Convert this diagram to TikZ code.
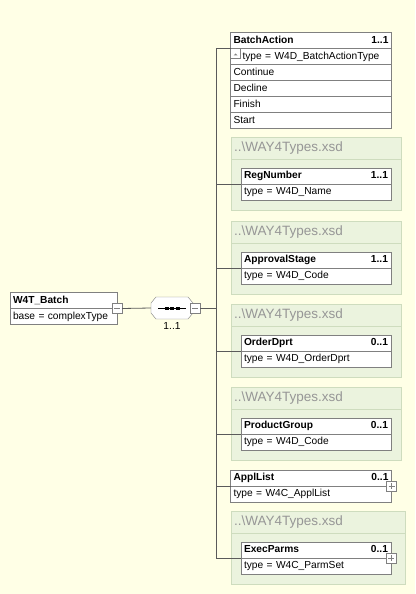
\documentclass[tikz,border=0pt]{standalone}
\usepackage{fontspec}
\setmainfont{Liberation Sans}
\usetikzlibrary{positioning}

\definecolor{paper}{RGB}{255,255,230}
\definecolor{grpfill}{RGB}{235,243,222}
\definecolor{grpline}{RGB}{206,220,190}
\definecolor{boxline}{RGB}{128,128,128}
\definecolor{wire}{RGB}{90,90,90}
\definecolor{grptext}{RGB}{150,150,150}

\newcommand\minussign[1]{\draw[boxline] ([xshift=-3pt]#1.center) -- ([xshift=3pt]#1.center);}
\newcommand\plussign[1]{\minussign{#1}\draw[boxline] ([yshift=-3pt]#1.center) -- ([yshift=3pt]#1.center);}

\begin{document}
\begin{tikzpicture}[x=1pt,y=-1pt,inner sep=0pt,outer sep=0pt,
                    font=\fontsize{10.2}{12}\selectfont]
  \tikzset{
    cell/.style={draw=boxline, fill=white, minimum height=16pt, text width=#1-6pt,
                 inner xsep=3pt, text height=8pt, text depth=2.5pt, align=left},
    grphd/.style={draw=grpline, fill=grpfill, minimum height=22pt, text width=#1-6pt,
                  inner xsep=3pt, text height=10pt, text depth=3pt, align=left,
                  text=grptext, font=\fontsize{13.5}{15}\selectfont},
    grpbody/.style={draw=grpline, fill=grpfill, minimum height=51pt, minimum width=#1},
    btn/.style={draw=boxline, fill=white, minimum size=10pt},
    wire/.style={draw=wire, line width=0.8pt},
  }
  \fill[paper] (0,0) rectangle (415,594);
  \useasboundingbox (0,0) rectangle (415,594);

  % root element
  \node[cell=107pt, anchor=north west] (w4thd) at (10,292.5) {\textbf{W4T\_Batch}};
  \node[cell=107pt] (w4ttype) [below=0pt of w4thd] {base = complexType};
  \node[btn] (w4tbtn) at (w4thd.south east) {};
  \minussign{w4tbtn}

  % sequence
  \node[minimum width=42pt, minimum height=22pt] (seq) at (172,308) {};
  \draw[boxline, fill=white] ([xshift=5pt]seq.north west) -- ([xshift=-5pt]seq.north east)
    -- ([yshift=-6pt]seq.north east) -- ([yshift=6pt]seq.south east)
    -- ([xshift=-5pt]seq.south east) -- ([xshift=5pt]seq.south west)
    -- ([yshift=6pt]seq.south west) -- ([yshift=-6pt]seq.north west) -- cycle;
  \draw[line width=1pt] ([xshift=-14pt]seq.center) -- ([xshift=14pt]seq.center);
  \foreach \d in {-7.5,-2,3.5}
    \fill ([xshift=\d pt, yshift=1.5pt]seq.center) rectangle +(4,3);
  \node[btn] (seqbtn) at (195,308) {};
  \minussign{seqbtn}
  \node (seqcard) [below=3pt of seq] {1..1};
  \coordinate (bus) at (216,308);

  % enumerated element
  \node[cell=161pt, anchor=north west] (batchhd) at (230.5,32.5) {\textbf{BatchAction}\hfill\textbf{1..1}};
  \node[cell=161pt] (batchtype) [below=0pt of batchhd] {\hspace*{9pt}type = W4D\_BatchActionType};
  \node[cell=161pt] (batchv1) [below=0pt of batchtype] {Continue};
  \node[cell=161pt] (batchv2) [below=0pt of batchv1] {Decline};
  \node[cell=161pt] (batchv3) [below=0pt of batchv2] {Finish};
  \node[cell=161pt] (batchv4) [below=0pt of batchv3] {Start};
  \node[btn, anchor=north west] (batchbtn) at (batchtype.north west) {};
  \fill[boxline] ([shift={(-2,2)}]batchbtn.center) -- ([shift={(2,2)}]batchbtn.center)
                 -- ([shift={(0,0)}]batchbtn.center) -- cycle;

  % imported elements
  \foreach \y/\w/\n/\nm/\t/\c in {137/170/reg/RegNumber/W4D\_Name/1..1,
                                  221/170/appr/ApprovalStage/W4D\_Code/1..1,
                                  304/170/ord/OrderDprt/W4D\_OrderDprt/0..1,
                                  387/170/prod/ProductGroup/W4D\_Code/0..1,
                                  511/174/exec/ExecParms/W4C\_ParmSet/0..1} {
    \node[grphd=\w pt, anchor=north west] (\n grp) at (231,\y) {..\textbackslash WAY4Types.xsd};
    \node[grpbody=\w pt] (\n body) [below=0pt of \n grp] {};
    \node[cell=150pt, anchor=north west] (\n hd) at (241,\y+31) {\textbf{\nm}\hfill\textbf{\c}};
    \node[cell=150pt] (\n type) [below=0pt of \n hd] {type = \t};
  }
  \node[cell=161pt, anchor=north west] (applhd) at (230.5,470) {\textbf{ApplList}\hfill\textbf{0..1}};
  \node[cell=161pt] (appltype) [below=0pt of applhd] {type = W4C\_ApplList};

  % connectors
  \draw[wire] (w4tbtn.east) -- (seq.west);
  \draw[wire] (seqbtn.east) -- (bus);
  \foreach \n in {batchhd, reghd, apprhd, ordhd, prodhd, applhd, exechd}
    \draw[wire] (bus) |- (\n.south west);
  \node[btn] (applbtn) at (applhd.south east) {};
  \plussign{applbtn}
  \node[btn] (execbtn) at (exechd.south east) {};
  \plussign{execbtn}
\end{tikzpicture}
\end{document}
